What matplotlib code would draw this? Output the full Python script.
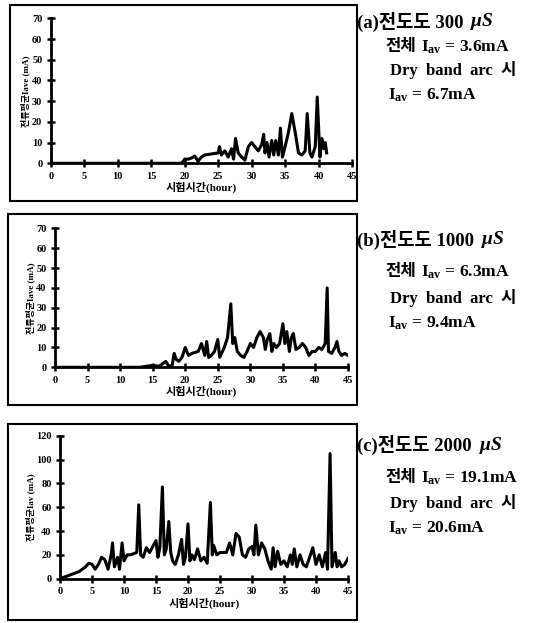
import numpy as np
import matplotlib.pyplot as plt
from matplotlib.patches import Rectangle

plt.rcParams['font.family'] = ['Liberation Serif', 'Noto Sans CJK KR']
plt.rcParams['mathtext.fontset'] = 'custom'
plt.rcParams['mathtext.rm'] = 'Liberation Serif:bold'
plt.rcParams['mathtext.it'] = 'Liberation Serif:italic:bold'

# (a) 300 uS
a_hour = [0, 5, 10, 15, 19.5, 19.8, 20, 20.5, 21, 21.5, 22, 22.5, 23, 24, 25, 25.2, 25.5, 26, 26.5,
          27, 27.3, 27.6, 28, 28.5, 29, 29.5, 30, 30.5, 31, 31.5, 31.8, 32, 32.3, 32.6, 33, 33.3,
          33.6, 34, 34.3, 34.6, 35, 35.5, 36, 36.5, 37, 37.5, 38, 38.3, 38.7, 39, 39.5, 39.8,
          40.2, 40.5, 40.8, 41, 41.2]
a_cur = [0, 0, 0, 0, 0, 1, 2, 2, 2.5, 3.5, 1, 3, 4, 4.5, 5, 8, 4, 6, 3,
         7, 2, 12, 5, 3, 1.5, 8, 10, 8, 6, 9, 14, 5, 10, 3, 11, 4,
         11, 4, 17, 3, 8, 15, 24, 15, 5, 4, 6, 24, 5, 3, 8, 32,
         3, 12, 7, 10, 5]

# (b) 1000 uS
b_hour = [0, 5, 10, 13, 14, 15, 16, 17, 17.5, 18, 18.3, 18.6, 19, 19.5, 20, 20.5, 21, 22, 22.5,
          23, 23.3, 23.6, 24, 24.5, 25, 25.3, 26, 26.5, 27, 27.3, 27.6, 28, 28.5, 29, 29.5, 30,
          30.5, 31, 31.5, 32, 32.3, 32.6, 33, 33.3, 33.6, 34, 34.5, 35, 35.3, 35.6, 36, 36.3,
          36.6, 37, 37.5, 38, 38.5, 39, 39.5, 40, 40.5, 41, 41.5, 41.8, 42, 42.5, 43, 43.3,
          43.6, 44, 44.5, 45]
b_cur = [0, 0, 0, 0, 0.5, 1, 0.5, 3, 0.5, 1, 7, 4, 3, 5, 10, 6, 7, 8, 12,
         6, 13, 5, 6, 8, 14, 5, 10, 15, 32, 12, 15, 8, 6, 5, 8, 12,
         10, 15, 18, 15, 9, 14, 17, 8, 12, 10, 12, 22, 12, 18, 8, 15,
         17, 9, 10, 12, 10, 6, 8, 8, 10, 9, 12, 40, 8, 7, 10, 13,
         8, 6, 7, 6]

# (c) 2000 uS
c_hour = [0, 1, 2, 3, 4, 4.5, 5, 5.5, 6, 6.5, 7, 7.5, 8, 8.2, 8.5, 9, 9.3, 9.7, 10, 10.5, 11,
          12, 12.3, 12.6, 13, 13.5, 14, 15, 15.3, 15.6, 16, 16.3, 16.6, 17, 17.3, 17.6, 18,
          18.5, 19, 19.3, 19.6, 20, 20.3, 20.6, 21, 21.5, 22, 22.5, 23, 23.5, 23.8, 24, 24.5,
          25, 26, 26.5, 27, 27.5, 28, 28.5, 29, 29.5, 30, 30.3, 30.6, 31, 31.5, 32, 32.5, 33,
          33.3, 33.6, 34, 34.5, 35, 35.5, 36, 36.3, 36.6, 37, 37.5, 38, 38.5, 39, 39.5, 40,
          40.5, 41, 41.5, 41.8, 42.2, 42.5, 43, 43.3, 43.6, 44, 44.5, 45]
c_cur = [0, 2, 4, 6, 10, 13, 12, 8, 12, 18, 16, 8, 20, 30, 10, 18, 8, 30, 15, 20, 20,
         22, 62, 20, 18, 26, 22, 32, 18, 26, 77, 20, 25, 48, 22, 15, 12,
         20, 33, 12, 18, 46, 15, 20, 16, 25, 15, 18, 13, 64, 20, 28, 20,
         22, 22, 30, 20, 38, 35, 20, 18, 25, 27, 20, 45, 20, 30, 25, 15, 8,
         26, 10, 23, 12, 15, 10, 20, 12, 25, 10, 20, 12, 10, 18, 26, 12,
         20, 10, 22, 8, 105, 10, 22, 10, 15, 10, 12, 17]

x_ticks = [0, 5, 10, 15, 20, 25, 30, 35, 40, 45]

panels = [
    dict(hour=a_hour, cur=a_cur, ymax=70, ystep=10, ylabel='전류평균Iave (mA)',
         pos=[0.0932, 0.7379, 0.554, 0.2327], box=(10, 5, 357, 201),
         tag='(a)', cond='300', total='3.6', arc='6.7', ty=[22, 47, 70, 95]),
    dict(hour=b_hour, cur=b_cur, ymax=70, ystep=10, ylabel='전류평균Iave (mA)',
         pos=[0.1011, 0.4104, 0.5386, 0.2231], box=(8, 214, 357, 405),
         tag='(b)', cond='1000', total='6.3', arc='9.4', ty=[240, 272, 298, 323]),
    dict(hour=c_hour, cur=c_cur, ymax=120, ystep=20, ylabel='전류평균Iav (mA)',
         pos=[0.1103, 0.0711, 0.5294, 0.2295], box=(8, 424, 357, 620),
         tag='(c)', cond='2000', total='19.1', arc='20.6', ty=[445, 478, 503, 528]),
]

W, H = 544, 623
FS = 12.5
fig = plt.figure(figsize=(W / 100, H / 100), dpi=100)

for p in panels:
    x0, y0, x1, y1 = p['box']
    fig.patches.append(Rectangle((x0 / W, 1 - y1 / H), (x1 - x0) / W, (y1 - y0) / H,
                                 transform=fig.transFigure, fill=False,
                                 edgecolor='black', linewidth=1.5))

    ax = fig.add_axes(p['pos'])
    ax.plot(p['hour'], p['cur'], color='black', linewidth=2.2)
    ax.set_xlim(0, 45)
    ax.set_ylim(0, p['ymax'])
    ax.set_xticks(x_ticks)
    ax.set_yticks(np.arange(0, p['ymax'] + 1, p['ystep']))
    for s in ['top', 'right']:
        ax.spines[s].set_visible(False)
    for s in ['left', 'bottom']:
        ax.spines[s].set_linewidth(2)
    ax.tick_params(direction='inout', length=6, width=1.8, labelsize=7.5, pad=3)
    for lab in ax.get_xticklabels() + ax.get_yticklabels():
        lab.set_fontweight('bold')
    ax.set_xlabel('시험시간(hour)', fontsize=8, fontweight='bold', labelpad=1)
    ax.set_ylabel(p['ylabel'], fontsize=6.5, fontweight='bold', labelpad=1)
    ax.patch.set_alpha(0)

    # notes on the right: korean and mathtext go in separate pieces (no CJK in mathtext)
    t1 = fig.text(357 / W, 1 - p['ty'][0] / H, p['tag'] + '전도도 ' + p['cond'],
                  fontsize=FS + 1, ha='left', va='center', fontweight='bold')
    ax.annotate('$\\mathit{\\mu S}$', xy=(1, 0.5), xycoords=t1, xytext=(5, 0),
                textcoords='offset points', va='center', ha='left', fontsize=FS + 1.5,
                annotation_clip=False)

    t2 = fig.text(385 / W, 1 - p['ty'][1] / H, '전체', fontsize=FS - 0.5,
                  ha='left', va='center', fontweight='bold')
    ax.annotate('$\\mathrm{I_{av}}$ = ' + p['total'] + 'mA', xy=(1, 0.5), xycoords=t2,
                xytext=(4, 0), textcoords='offset points', va='center', ha='left',
                fontsize=FS, fontweight='bold', annotation_clip=False)

    fig.text(390 / W, 1 - p['ty'][2] / H, 'Dry  band  arc  시', fontsize=FS - 0.5,
             ha='left', va='center', fontweight='bold')
    fig.text(388 / W, 1 - p['ty'][3] / H, '$\\mathrm{I_{av}}$ = ' + p['arc'] + 'mA',
             fontsize=FS, ha='left', va='center', fontweight='bold')

fig.savefig('out.png', dpi=100)
